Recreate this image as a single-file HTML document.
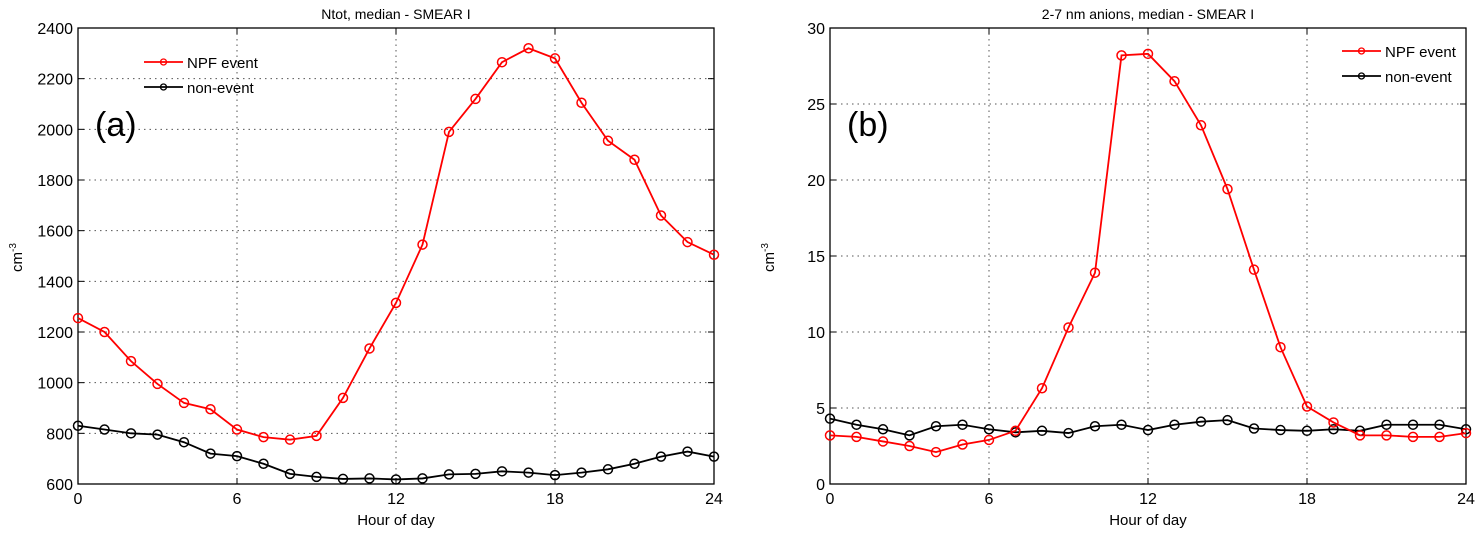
<!DOCTYPE html>
<html><head><meta charset="utf-8"><style>
body{margin:0;background:#fff}
svg text{font-family:"Liberation Sans",Arial,sans-serif}
</style></head><body>
<svg id="svg" width="1477" height="531" xmlns="http://www.w3.org/2000/svg"></svg>
<script>
const hours=[0,1,2,3,4,5,6,7,8,9,10,11,12,13,14,15,16,17,18,19,20,21,22,23,24];
const xTicks=[0,6,12,18,24];
const aNpf=[1255,1200,1085,995,920,895,815,785,775,790,940,1135,1315,1545,1990,2120,2265,2320,2280,2105,1955,1880,1660,1555,1505];
const aNon=[830,815,800,795,765,720,710,680,640,628,620,622,618,622,638,640,650,645,635,645,658,680,708,728,708];
const aYTicks=[600,800,1000,1200,1400,1600,1800,2000,2200,2400];
const bNpf=[3.2,3.1,2.8,2.5,2.1,2.6,2.9,3.5,6.3,10.3,13.9,28.2,28.3,26.5,23.6,19.4,14.1,9.0,5.1,4.05,3.2,3.2,3.1,3.1,3.35];
const bNon=[4.3,3.9,3.6,3.2,3.8,3.9,3.6,3.4,3.5,3.35,3.8,3.9,3.55,3.9,4.1,4.2,3.65,3.55,3.5,3.6,3.5,3.9,3.9,3.9,3.6];
const bYTicks=[0,5,10,15,20,25,30];
const NS='http://www.w3.org/2000/svg';
const svg=document.getElementById('svg');
function mk(tag,attrs,parent,name,txt){const e=document.createElementNS(NS,tag);for(const k in attrs)e.setAttribute(k,attrs[k]);


if(txt!==undefined)e.textContent=txt;(parent||svg).appendChild(e);return e;}
function panel(id,x0,x1,y0,y1,ymin,ymax,yTicks,npf,non,title,letter,legX,legY){
  const g=mk('g',{},svg,'panel-'+id);
  const sx=v=>x0+(v-0)/24*(x1-x0);
  const sy=v=>y1-(v-ymin)/(ymax-ymin)*(y1-y0);
  xTicks.forEach(t=>{const x=sx(t);
    if(t>0&&t<24)mk('line',{x1:x,x2:x,y1:y0,y2:y1,stroke:'#555','stroke-dasharray':'1.5,4','stroke-width':1},g,'x-gridline');
    mk('line',{x1:x,x2:x,y1:y1,y2:y1-6,stroke:'#000'},g,'x-tick');
    mk('line',{x1:x,x2:x,y1:y0,y2:y0+6,stroke:'#000'},g,'x-tick');
    mk('text',{x:x,y:y1+20,'text-anchor':'middle','font-size':16},g,'x-tick-label',String(t));});
  yTicks.forEach(t=>{const y=sy(t);
    if(t>ymin&&t<ymax)mk('line',{x1:x0,x2:x1,y1:y,y2:y,stroke:'#555','stroke-dasharray':'1.5,4','stroke-width':1},g,'y-gridline');
    mk('line',{x1:x0,x2:x0+6,y1:y,y2:y,stroke:'#000'},g,'y-tick');
    mk('line',{x1:x1,x2:x1-6,y1:y,y2:y,stroke:'#000'},g,'y-tick');
    mk('text',{x:x0-5,y:y+6,'text-anchor':'end','font-size':16},g,'y-tick-label',String(t));});
  mk('rect',{x:x0,y:y0,width:x1-x0,height:y1-y0,fill:'none',stroke:'#000','stroke-width':1.3},g,'plot-frame');
  [[non,'#000','non-event-series'],[npf,'#f00','npf-event-series']].forEach(([d,c,n])=>{
    const pts=d.map((v,i)=>sx(hours[i])+','+sy(v)).join(' ');
    mk('polyline',{points:pts,fill:'none',stroke:c,'stroke-width':1.8},g,n+'-line');
    d.forEach((v,i)=>mk('circle',{cx:sx(hours[i]),cy:sy(v),r:4.5,fill:'none',stroke:c,'stroke-width':1.5},g,n+'-marker'));});
  mk('text',{x:(x0+x1)/2,y:19,'text-anchor':'middle','font-size':14},g,'chart-title',title);
  mk('text',{x:(x0+x1)/2,y:525,'text-anchor':'middle','font-size':15},g,'x-axis-title','Hour of day');
  const yl=mk('text',{x:0,y:0,'font-size':15,transform:`translate(${x0-56},${(y0+y1)/2+16}) rotate(-90)`},g,'y-axis-title','cm');
  const sup=mk('tspan',{dy:-6,'font-size':10},yl,'y-axis-title-exponent','-3');
  mk('text',{x:x0+17,y:136,'font-size':34},g,'panel-label',letter);
  [['NPF event','#f00',legY],['non-event','#000',legY+25]].forEach(([t,c,y])=>{
    mk('line',{x1:legX,x2:legX+39,y1:y,y2:y,stroke:c,'stroke-width':1.8},g,'legend-line');
    mk('circle',{cx:legX+19.5,cy:y,r:3,fill:'none',stroke:c,'stroke-width':1.3},g,'legend-marker');
    mk('text',{x:legX+43,y:y+6,'font-size':15},g,'legend-entry',t);});
}
panel('a',78,714,28,484,600,2400,aYTicks,aNpf,aNon,'Ntot, median - SMEAR I','(a)',144,62);
panel('b',830,1466,28,484,0,30,bYTicks,bNpf,bNon,'2-7 nm anions, median - SMEAR I','(b)',1342,51);
</script>
</body></html>
